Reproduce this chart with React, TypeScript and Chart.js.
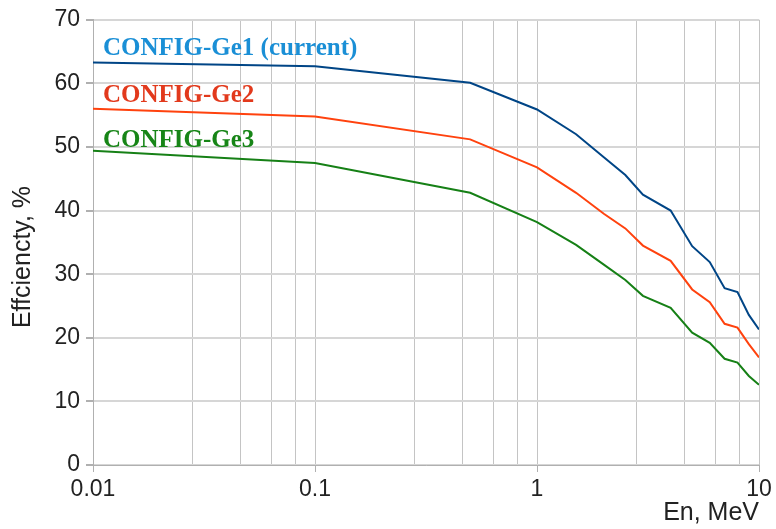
import React, { useEffect, useRef } from "react";
import { Chart, registerables } from "chart.js";

Chart.register(...registerables);

const energies = [0.01, 0.1, 0.5, 1, 1.5, 2, 2.5, 3, 4, 5, 6, 7, 8, 9, 10];
const ge1 = [63.3, 62.7, 60.1, 55.9, 52.0, 48.4, 45.6, 42.5, 40.0, 34.4, 31.9, 27.8, 27.2, 23.6, 21.3];
const ge2 = [56.0, 54.8, 51.2, 46.8, 42.8, 39.5, 37.2, 34.5, 32.1, 27.6, 25.6, 22.2, 21.6, 19.0, 16.9];
const ge3 = [49.4, 47.5, 42.8, 38.2, 34.6, 31.5, 29.1, 26.6, 24.7, 20.8, 19.2, 16.7, 16.1, 14.0, 12.6];

const seriesNames = ["CONFIG-Ge1 (current)", "CONFIG-Ge2", "CONFIG-Ge3"];
const xMajorTicks = [0.01, 0.1, 1, 10];
const xMajorLabels = ["0.01", "0.1", "1", "10"];
const xMinorSteps = [2.8, 4.6, 6.4, 8.2];
const yTicks = [0, 10, 20, 30, 40, 50, 60, 70];
const xTitle = "En, MeV";
const yTitle = "Effciencty, %";

const lineColors = ["#004586", "#ff420e", "#168016"];
const textColors = ["#1a8fd6", "#e2391c", "#178517"];

const SANS = "'Liberation Sans', Arial, sans-serif";

function buildXTicks() {
  const t: { value: number; major: boolean }[] = [];
  for (let i = 0; i < xMajorTicks.length; i++) {
    t.push({ value: xMajorTicks[i], major: true });
    if (i < xMajorTicks.length - 1) {
      for (const s of xMinorSteps) t.push({ value: +(xMajorTicks[i] * s).toPrecision(6), major: false });
    }
  }
  return t;
}

const overlayPlugin = {
  id: "overlayText",
  afterDraw(chart: any) {
    const ctx = chart.ctx;
    ctx.save();
    // series labels inside plot
    ctx.font = "bold 25px 'Liberation Serif', 'Times New Roman', serif";
    ctx.textAlign = "left";
    ctx.textBaseline = "alphabetic";
    const left = chart.chartArea.left + 10;
    const baselines = [chart.chartArea.top + 35, chart.chartArea.top + 82, chart.chartArea.top + 127];
    seriesNames.forEach((n, i) => {
      ctx.fillStyle = textColors[i];
      ctx.fillText(n, left, baselines[i]);
    });
    // y title
    ctx.font = "25px " + SANS;
    ctx.fillStyle = "#222";
    ctx.translate(23, 257);
    ctx.rotate(-Math.PI / 2);
    ctx.textAlign = "center";
    ctx.textBaseline = "middle";
    ctx.fillText(yTitle, 0, 0);
    ctx.restore();
  },
};

export default function App() {
  const ref = useRef<HTMLCanvasElement>(null);
  useEffect(() => {
    document.body.style.margin = "0";
    const canvas = ref.current!;
    const mk = (vals: number[]) => energies.map((e, i) => ({ x: e, y: vals[i] }));
    const chart = new Chart(canvas, {
      type: "line",
      data: {
        datasets: [ge1, ge2, ge3].map((v, i) => ({
          label: seriesNames[i],
          data: mk(v),
          borderColor: lineColors[i],
          backgroundColor: lineColors[i],
          borderWidth: 2,
          pointRadius: 0,
          tension: 0,
          fill: false,
        })),
      },
      options: {
        animation: false,
        responsive: false,
        devicePixelRatio: 1,
        layout: { padding: { top: 17, right: 17, left: 0, bottom: 0 } },
        plugins: { legend: { display: false }, tooltip: { enabled: false } },
        scales: {
          x: {
            type: "logarithmic",
            min: 0.01,
            max: 10,
            afterBuildTicks: (scale: any) => {
              scale.ticks = buildXTicks();
            },
            afterFit: (scale: any) => {
              scale.height = 64;
            },
            ticks: {
              autoSkip: false,
              maxRotation: 0,
              padding: 4,
              color: "#222",
              font: { family: SANS, size: 23 },
              callback: (v: any) => {
                const idx = xMajorTicks.findIndex((m) => Math.abs(m - Number(v)) < 1e-9);
                return idx >= 0 ? xMajorLabels[idx] : "";
              },
            },
            grid: {
              color: "#c4c4c4",
              lineWidth: 1,
              tickLength: 7,
              tickColor: (c: any) =>
                c.tick && xMajorTicks.some((m) => Math.abs(m - c.tick.value) < 1e-9) ? "#b0b0b0" : "rgba(0,0,0,0)",
            },
            border: { color: "#b0b0b0", width: 1 },
            title: {
              display: true,
              text: xTitle,
              align: "end",
              color: "#222",
              font: { family: SANS, size: 25 },
              padding: { top: 0, bottom: 1 },
            },
          },
          y: {
            type: "linear",
            min: 0,
            max: 70,
            afterBuildTicks: (scale: any) => {
              scale.ticks = yTicks.map((v) => ({ value: v }));
            },
            afterFit: (scale: any) => {
              scale.width = 93;
            },
            ticks: {
              padding: 6,
              color: "#222",
              font: { family: SANS, size: 23 },
            },
            grid: { color: "#d6d6d6", lineWidth: 2, tickLength: 7, tickColor: "#b0b0b0" },
            border: { color: "#b0b0b0", width: 1 },
          },
        },
      },
      plugins: [overlayPlugin],
    } as any);
    return () => chart.destroy();
  }, []);
  return (
    <div style={{ position: "absolute", left: 0, top: 0, width: 776, height: 529, background: "#fff" }}>
      <canvas ref={ref} width={776} height={529} />
    </div>
  );
}
